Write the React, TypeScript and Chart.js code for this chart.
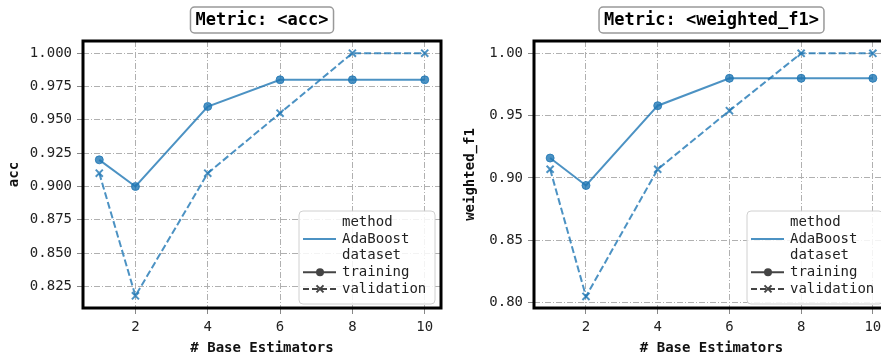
import React, { useEffect, useRef } from "react";
import { Chart, registerables } from "chart.js";

Chart.register(...registerables);

// ---- data ----
const xValues = [1, 2, 4, 6, 8, 10];
const accTraining = [0.92, 0.9, 0.96, 0.98, 0.98, 0.98];
const accValidation = [0.91, 0.818, 0.91, 0.955, 1.0, 1.0];
const f1Training = [0.916, 0.894, 0.958, 0.98, 0.98, 0.98];
const f1Validation = [0.907, 0.805, 0.907, 0.954, 1.0, 1.0];
const xTicks = [2, 4, 6, 8, 10];
const accTicks = [0.825, 0.85, 0.875, 0.9, 0.925, 0.95, 0.975, 1.0];
const f1Ticks = [0.8, 0.85, 0.9, 0.95, 1.0];
const legendLabels = ["method", "AdaBoost", "dataset", "training", "validation"];
const xLabel = "# Base Estimators";

const BLUE = "rgba(31,119,180,0.8)";
const HANDLE = "#444444";
const FONT = "'DejaVu Sans Mono', monospace";

type Props = {
  metric: string;
  training: number[];
  validation: number[];
  yTicks: number[];
  yMin: number;
  yMax: number;
  decimals: number;
  yAxisWidth: number;
  rightPad: number;
  yTitlePad: number;
  left: number;
};

function decorPlugin(title: string) {
  return {
    id: "decor",
    afterDraw(chart: any) {
      const { ctx, chartArea: a } = chart;
      ctx.save();
      // legend
      const bw = 136;
      const bh = 93;
      const bx = a.right - 6 - bw;
      const by = a.bottom - 4 - bh;
      ctx.beginPath();
      ctx.roundRect(bx, by, bw, bh, 4);
      ctx.fillStyle = "rgba(255,255,255,0.85)";
      ctx.fill();
      ctx.strokeStyle = "#d0d0d0";
      ctx.lineWidth = 1;
      ctx.stroke();
      ctx.font = `14px ${FONT}`;
      ctx.textAlign = "left";
      ctx.textBaseline = "middle";
      legendLabels.forEach((lab, i) => {
        const ry = by + 11.5 + i * 16.6;
        ctx.fillStyle = "#222";
        ctx.fillText(lab, bx + 43, ry);
        const hx0 = bx + 4;
        const hx1 = bx + 37;
        const hc = bx + 21;
        if (i === 1) {
          ctx.beginPath();
          ctx.setLineDash([]);
          ctx.strokeStyle = BLUE;
          ctx.lineWidth = 2;
          ctx.moveTo(hx0, ry);
          ctx.lineTo(hx1, ry);
          ctx.stroke();
        } else if (i === 3) {
          ctx.beginPath();
          ctx.setLineDash([]);
          ctx.strokeStyle = HANDLE;
          ctx.lineWidth = 2;
          ctx.moveTo(hx0, ry);
          ctx.lineTo(hx1, ry);
          ctx.stroke();
          ctx.beginPath();
          ctx.arc(hc, ry, 4, 0, Math.PI * 2);
          ctx.fillStyle = HANDLE;
          ctx.fill();
        } else if (i === 4) {
          ctx.beginPath();
          ctx.setLineDash([6, 3]);
          ctx.strokeStyle = HANDLE;
          ctx.lineWidth = 2;
          ctx.moveTo(hx0, ry);
          ctx.lineTo(hx1, ry);
          ctx.stroke();
          ctx.setLineDash([]);
          ctx.beginPath();
          ctx.lineWidth = 2;
          ctx.moveTo(hc - 3.5, ry - 3.5);
          ctx.lineTo(hc + 3.5, ry + 3.5);
          ctx.moveTo(hc - 3.5, ry + 3.5);
          ctx.lineTo(hc + 3.5, ry - 3.5);
          ctx.stroke();
        }
      });
      // frame
      ctx.setLineDash([]);
      ctx.strokeStyle = "#000";
      ctx.lineWidth = 3;
      ctx.strokeRect(a.left, a.top, a.right - a.left, a.bottom - a.top);
      // title box
      ctx.font = `bold 17px ${FONT}`;
      const tw = ctx.measureText(title).width;
      const cx = (a.left + a.right) / 2;
      const tbw = tw + 10;
      ctx.beginPath();
      ctx.roundRect(cx - tbw / 2, 7, tbw, 26, 4);
      ctx.fillStyle = "#fff";
      ctx.fill();
      ctx.strokeStyle = "#999";
      ctx.lineWidth = 1.5;
      ctx.stroke();
      ctx.fillStyle = "#000";
      ctx.textAlign = "center";
      ctx.textBaseline = "middle";
      ctx.fillText(title, cx, 20.5);
      ctx.restore();
    },
  };
}

function MetricChart(p: Props) {
  const ref = useRef<HTMLCanvasElement>(null);
  useEffect(() => {
    const tickFont = { family: FONT, size: 14 };
    const titleFont = { family: FONT, size: 14, weight: "bold" as const };
    const chart = new Chart(ref.current!, {
      type: "line",
      data: {
        datasets: [
          {
            label: "training",
            data: xValues.map((x, i) => ({ x, y: p.training[i] })),
            borderColor: BLUE,
            backgroundColor: BLUE,
            borderWidth: 2,
            pointStyle: "circle",
            pointRadius: 4,
            pointBorderWidth: 1,
            pointBackgroundColor: BLUE,
            pointBorderColor: BLUE,
          },
          {
            label: "validation",
            data: xValues.map((x, i) => ({ x, y: p.validation[i] })),
            borderColor: BLUE,
            backgroundColor: BLUE,
            borderWidth: 2,
            borderDash: [7, 3],
            pointStyle: "crossRot",
            pointRadius: 5,
            pointBorderWidth: 2,
            pointBorderColor: BLUE,
          },
        ],
      },
      options: {
        animation: false,
        responsive: false,
        devicePixelRatio: 1,
        layout: { padding: { top: 41, right: p.rightPad, left: 0, bottom: 0 } },
        plugins: {
          legend: { display: false },
          tooltip: { enabled: false },
          title: { display: false },
        },
        scales: {
          x: {
            type: "linear",
            min: 0.55,
            max: 10.45,
            afterBuildTicks: (s: any) => {
              s.ticks = xTicks.map((v) => ({ value: v }));
            },
            afterFit: (s: any) => {
              s.height = 49;
            },
            grid: {
              color: "#b0b0b0",
              lineWidth: 1,
              drawTicks: true,
              tickLength: 6,
              tickColor: "#888",
              tickWidth: 1,
            },
            border: { display: false, dash: [6, 2, 1, 2] },
            ticks: {
              font: tickFont,
              color: "#222",
              padding: 5,
              maxRotation: 0,
              autoSkip: false,
              callback: (v: any) => String(v),
            },
            title: {
              display: true,
              text: xLabel,
              font: titleFont,
              color: "#111",
              padding: { top: 0, bottom: 0 },
            },
          },
          y: {
            type: "linear",
            min: p.yMin,
            max: p.yMax,
            afterBuildTicks: (s: any) => {
              s.ticks = p.yTicks.map((v) => ({ value: v }));
            },
            afterFit: (s: any) => {
              s.width = p.yAxisWidth;
            },
            grid: {
              color: "#b0b0b0",
              lineWidth: 1,
              drawTicks: true,
              tickLength: 6,
              tickColor: "#888",
              tickWidth: 1,
            },
            border: { display: false, dash: [6, 2, 1, 2] },
            ticks: {
              font: tickFont,
              color: "#222",
              padding: 5,
              autoSkip: false,
              callback: (v: any) => Number(v).toFixed(p.decimals),
            },
            title: {
              display: true,
              text: p.metric,
              font: titleFont,
              color: "#111",
              padding: { top: p.yTitlePad, bottom: 0 },
            },
          },
        },
      },
      plugins: [decorPlugin(`Metric: <${p.metric}>`)],
    } as any);
    return () => chart.destroy();
  }, []);
  return (
    <canvas
      ref={ref}
      width={450}
      height={357}
      style={{ position: "absolute", left: p.left, top: 0, width: 450, height: 357 }}
    />
  );
}

export default function App() {
  return (
    <div
      style={{
        position: "fixed",
        left: 0,
        top: 0,
        width: 881,
        height: 357,
        overflow: "hidden",
        background: "#fff",
      }}
    >
      <MetricChart
        metric="acc"
        training={accTraining}
        validation={accValidation}
        yTicks={accTicks}
        yMin={0.8089}
        yMax={1.0091}
        decimals={3}
        yAxisWidth={83}
        rightPad={9}
        yTitlePad={6.4}
        left={0}
      />
      <MetricChart
        metric="weighted_f1"
        training={f1Training}
        validation={f1Validation}
        yTicks={f1Ticks}
        yMin={0.7957}
        yMax={1.0099}
        decimals={2}
        yAxisWidth={84}
        rightPad={11}
        yTitlePad={12.1}
        left={450}
      />
    </div>
  );
}
